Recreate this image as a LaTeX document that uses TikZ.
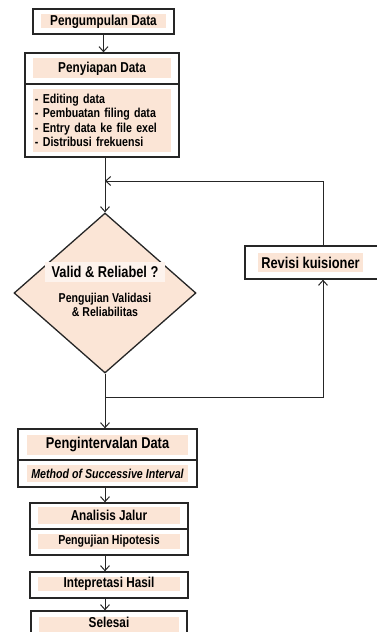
\documentclass[tikz,border=0pt]{standalone}
\usepackage{fontspec}
\setmainfont{Liberation Sans}[FakeStretch=0.82]
\usetikzlibrary{arrows.meta,shapes.geometric}
\definecolor{peach}{HTML}{FBE5D6}
\definecolor{ink}{HTML}{262626}
\tikzset{
  box/.style={draw=ink, line width=1.3bp, inner sep=0pt},
  band/.style={fill=peach, inner sep=0pt, font=\bfseries\fontsize{14.4}{15}\selectfont},
  bigband/.style={band, font=\bfseries\fontsize{15.7}{16}\selectfont},
  smallband/.style={band, font=\bfseries\fontsize{13}{14}\selectfont},
  flow/.style={draw=ink, line width=1bp, -{Straight Barb[length=5bp,width=9bp]}},
}

\begin{document}
\begin{tikzpicture}[x=1bp,y=-1bp]
\useasboundingbox (0,0) rectangle (376,632);

% kotak proses
\node[box, minimum width=141bp, minimum height=25bp] (kumpul) at (103.5,21.5) {};
\node[box, minimum width=154bp, minimum height=31bp] (siap1) at (102,68.5) {};
\node[box, minimum width=154bp, minimum height=73bp] (siap2) at (102,120.5) {};
\node[box, fill=peach, diamond, aspect=1.1375, minimum width=182bp, minimum height=160bp] (dia) at (105,293) {};
\node[box, minimum width=135bp, minimum height=33bp] (revisi) at (312.5,262.5) {};
\node[box, minimum width=179bp, minimum height=31bp] (interval1) at (107.5,444.5) {};
\node[box, minimum width=179bp, minimum height=27bp] (interval2) at (107.5,473.5) {};
\node[box, minimum width=158bp, minimum height=26bp] (analisis1) at (109,516) {};
\node[box, minimum width=158bp, minimum height=26bp] (analisis2) at (109,542) {};
\node[box, minimum width=158bp, minimum height=26bp] (hasil) at (109,585) {};
\node[box, minimum width=156bp, minimum height=30bp] (selesai) at (109,626) {};

% teks
\node[band, minimum width=125bp, minimum height=14bp] (kumpulT) at (kumpul) {Pengumpulan Data};
\node[band, minimum width=137bp, minimum height=20bp] (siapT) at (siap1) {Penyiapan Data};
\node[smallband, minimum width=137bp, minimum height=63bp, text width=134bp, align=left,
      font=\bfseries\fontsize{13}{14.5}\selectfont] (siapL) at (siap2)
  {- Editing data\\- Pembuatan filing data\\- Entry data ke file exel\\- Distribusi frekuensi};
\node[bigband, fill=peach!45, minimum width=120bp, minimum height=20bp] (validT) at (105,272) {Valid \& Reliabel ?};
\node[smallband, fill=none, align=center, font=\bfseries\fontsize{12.9}{14}\selectfont] (ujiT) at (105,305)
  {Pengujian Validasi\\\& Reliabilitas};
\node[bigband, minimum width=105bp, minimum height=19bp] (revisiT) at (310.5,262.5) {Revisi kuisioner};
\node[bigband, minimum width=161bp, minimum height=20bp] (intervalT) at (interval1) {Pengintervalan Data};
\node[smallband, minimum width=161bp, minimum height=17bp] (msiT) at (interval2) {\itshape Method of Successive Interval};
\node[band, minimum width=141bp, minimum height=17bp] (analisisT) at (109,515.5) {Analisis Jalur};
\node[smallband, minimum width=141bp, minimum height=15bp] (hipotesisT) at (109,541.5) {Pengujian Hipotesis};
\node[band, minimum width=141bp, minimum height=14bp] (hasilT) at (109,584) {Intepretasi Hasil};
\node[band, minimum width=140bp, minimum height=20bp] (selesaiT) at (109,627) {};
\node[band, fill=none] (selesaiL) at (109,622.5) {Selesai};

% alur
\coordinate (balik) at (323,181);
\coordinate (gagal) at (323,397);
\draw[flow] (kumpul.south) -- (kumpul.south |- siap1.north);
\draw[flow] (siap2.south -| dia.north) -- (dia.north);
\draw[flow] (revisi.north -| balik) -- (balik) -- (balik -| dia.north);
\draw[flow] (gagal -| dia.south) -- (gagal) -- (revisi.south -| gagal);
\draw[flow] (dia.south) -- (dia.south |- interval1.north);
\draw[flow] (interval2.south -| dia.south) -- (analisis1.north -| dia.south);
\draw[flow] (analisis2.south -| dia.south) -- (hasil.north -| dia.south);
\draw[flow] (hasil.south -| dia.south) -- (selesai.north -| dia.south);
\end{tikzpicture}
\end{document}
